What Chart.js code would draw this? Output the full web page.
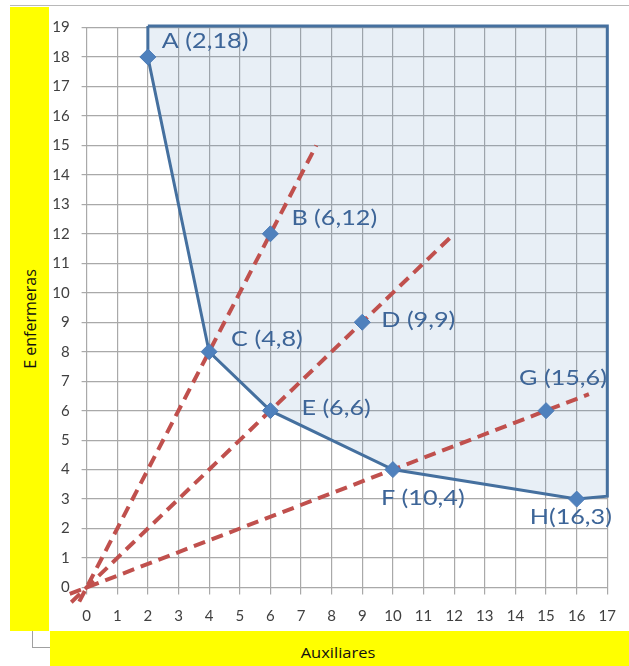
<!DOCTYPE html>
<html lang="es">
<head>
<meta charset="UTF-8">
<title>Enfermeras y auxiliares</title>
<script src="https://cdn.jsdelivr.net/npm/chart.js"></script>
<style>
  body { margin: 0; background: #fff; font-family: "Open Sans", sans-serif; }
  #wrap { position: relative; width: 629px; height: 666px; overflow: hidden; }
  .marco { position: absolute; left: 10px; top: 5px; width: 619px; border-top: 1px solid #b8b8b8; }
  .esquina { position: absolute; left: 32px; top: 631px; width: 18px; height: 16px;
             border-left: 1px solid #a0a0a0; border-bottom: 1px solid #a0a0a0; }
  .tituloY { position: absolute; left: 10px; top: 7px; width: 39px; height: 624px; background: #ffff00; }
  .tituloY span { position: absolute; left: 50%; top: 50%; white-space: nowrap; font-size: 16px; font-weight: 400; color: #111;
                  transform: translate(-50%, -50%) rotate(-90deg); }
  .tituloX { position: absolute; left: 50px; top: 631px; width: 579px; height: 35px; background: #ffff00; }
  .tituloX span { position: absolute; left: 288px; top: 21px; white-space: nowrap; font-size: 15px; font-weight: 400; color: #111;
                  transform: translate(-50%, -50%) scaleX(1.1); }
  canvas { position: absolute; left: 0; top: 0; }
</style>
</head>
<body>
<div id="wrap">
  <div class="marco"></div>
  <div class="esquina"></div>
  <div class="tituloY"><span>E enfermeras</span></div>
  <div class="tituloX"><span>Auxiliares</span></div>
  <canvas id="grafico" width="629" height="666"></canvas>
</div>

<script>
    // puntos marcados
    const puntosNombres = ['A (2,18)', 'B (6,12)', 'C (4,8)', 'D (9,9)', 'E (6,6)', 'F (10,4)', 'G (15,6)', 'H(16,3)'];
    const puntosX = [2, 6, 4, 9, 6, 10, 15, 16];
    const puntosY = [18, 12, 8, 9, 6, 4, 6, 3];

    // region factible (poligono)
    const regionX = [2, 2, 4, 6, 10, 16, 17, 17, 2];
    const regionY = [19.05, 18, 8, 6, 4, 3, 3.1, 19.05, 19.05];

    // rectas discontinuas por el origen
    const recta1X = [-0.24, 7.5];
    const recta1Y = [-0.48, 15];
    const recta2X = [-0.5, 12];
    const recta2Y = [-0.5, 12];
    const recta3X = [-0.55, 16.4];
    const recta3Y = [-0.22, 6.56];

    const ejeXMax = 17;
    const ejeYMax = 19;

    const azul = '#4f81bd';
    const rojo = '#c0504d';

    function pares(xs, ys) {
        return xs.map((x, i) => ({ x: x, y: ys[i] }));
    }

    // desplazamiento de cada etiqueta respecto a su punto (px)
    const desplaz = [[14, -16], [21, -16], [22, -12], [19, -2], [31, -2], [-12, 29], [-27, -32], [-47, 18]];

    const etiquetas = {
        id: 'etiquetas',
        afterDatasetsDraw(chart) {
            const meta = chart.getDatasetMeta(0);
            const ctx = chart.ctx;
            ctx.save();
            ctx.font = '21px Lato';
            ctx.fillStyle = '#3d6598';
            ctx.textBaseline = 'middle';
            ctx.textAlign = 'left';
            meta.data.forEach((p, i) => {
                ctx.save();
                ctx.translate(p.x + desplaz[i][0], p.y + desplaz[i][1]);
                ctx.scale(1.2, 1);
                ctx.fillText(puntosNombres[i], 0, 0);
                ctx.restore();
            });
            ctx.restore();
        }
    };

    const recta = (xs, ys) => ({
        type: 'line',
        data: pares(xs, ys),
        borderColor: rojo,
        borderWidth: 4,
        borderDash: [12, 7],
        pointRadius: 0,
        fill: false,
        clip: false,
        order: 1
    });

    new Chart(document.getElementById('grafico').getContext('2d'), {
        type: 'scatter',
        data: {
            datasets: [
                {
                    data: pares(puntosX, puntosY),
                    pointStyle: 'rectRot',
                    pointRadius: 8,
                    backgroundColor: azul,
                    borderColor: '#4a7ab5',
                    borderWidth: 1,
                    clip: false,
                    order: 0
                },
                recta(recta1X, recta1Y),
                recta(recta2X, recta2Y),
                recta(recta3X, recta3Y),
                {
                    type: 'line',
                    data: pares(regionX, regionY),
                    borderColor: '#45709f',
                    borderWidth: 3,
                    backgroundColor: 'rgba(79,129,189,0.13)',
                    fill: 'shape',
                    pointRadius: 0,
                    tension: 0,
                    clip: false,
                    order: 2
                }
            ]
        },
        options: {
            responsive: false,
            animation: false,
            devicePixelRatio: 1,
            layout: { padding: { left: 50, right: 20, top: 27.5, bottom: 38.5 } },
            plugins: {
                legend: { display: false },
                tooltip: { enabled: false }
            },
            scales: {
                x: {
                    type: 'linear',
                    min: 0,
                    max: ejeXMax,
                    ticks: { stepSize: 1, color: '#404040', font: { family: 'Lato', size: 15 }, padding: 13 },
                    grid: { color: '#a9a9a9', lineWidth: 1.2, tickLength: 7 },
                    border: { color: '#a9a9a9' },
                    afterFit(scale) { scale.height = 40; }
                },
                y: {
                    type: 'linear',
                    min: 0,
                    max: ejeYMax,
                    ticks: { stepSize: 1, color: '#404040', font: { family: 'Lato', size: 15 }, padding: 12 },
                    grid: { color: '#a9a9a9', lineWidth: 1.2, tickLength: 5 },
                    border: { color: '#a9a9a9' },
                    afterFit(scale) { scale.width = 36.6; }
                }
            }
        },
        plugins: [etiquetas]
    });
</script>
</body>
</html>
